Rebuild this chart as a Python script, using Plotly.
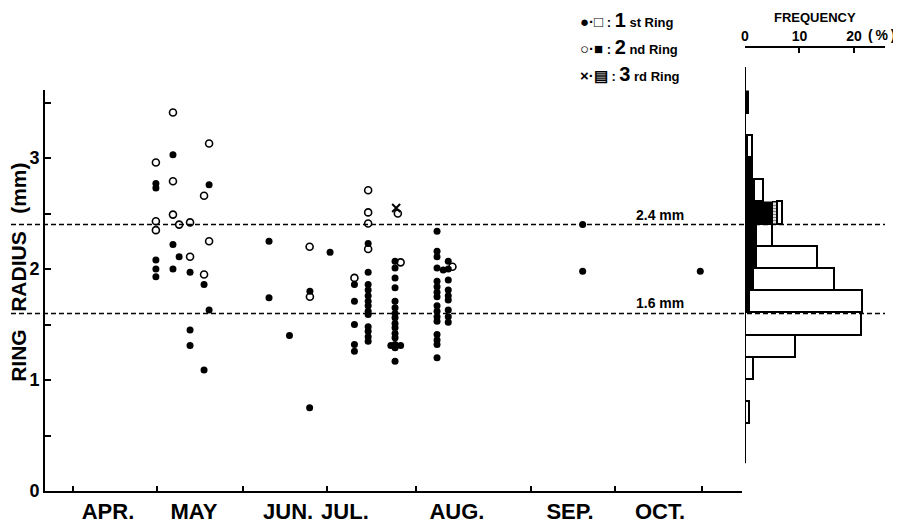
import plotly.graph_objects as go

# ---------------- data ----------------
# sampling position along the season axis (days from an origin ~ late March)
month_labels = ["APR.", "MAY", "JUN.", "JUL.", "AUG.", "SEP.", "OCT."]
month_label_pos = [22.5, 53.2, 86.8, 107.1, 147.1, 187.5, 219.6]
month_tick_pos = [10, 40, 70.7, 100.7, 132.5, 173.6, 203.6, 234.6]

# 1st ring (filled circles)
r1_x = ([39.6] * 5 + [45.7] * 3 + [47.9] + [51.8] * 3 + [56.8] * 2 + [58.6] * 2
        + [80, 80, 87.3, 94.6, 94.5, 101.8]
        + [110.5] * 5 + [115.4] * 13 + [125] * 15 + [123.5, 127]
        + [140] * 16 + [144] * 9 + [142.2]
        + [192, 192, 234])
r1_y = ([2.77, 2.73, 2.08, 2.00, 1.93, 3.03, 2.22, 2.00, 2.11, 1.97, 1.45, 1.31,
         1.86, 1.09, 2.76, 1.63]
        + [2.25, 1.74, 1.40, 1.80, 0.75, 2.15]
        + [1.86, 1.71, 1.50, 1.32, 1.26]
        + [2.23, 1.97, 1.86, 1.81, 1.76, 1.71, 1.67, 1.62, 1.59, 1.48, 1.44, 1.39, 1.35]
        + [2.07, 2.01, 1.92, 1.83, 1.71, 1.65, 1.60, 1.56, 1.51, 1.47, 1.42, 1.38,
           1.32, 1.29, 1.17]
        + [1.31, 1.31]
        + [2.34, 2.16, 2.11, 2.01, 1.89, 1.84, 1.79, 1.75, 1.67, 1.62, 1.57, 1.53,
           1.41, 1.36, 1.32, 1.20]
        + [2.07, 2.00, 1.90, 1.81, 1.76, 1.72, 1.63, 1.57, 1.52]
        + [1.99]
        + [2.40, 1.98, 1.98])

# 2nd ring (open circles)
r2_x = [39.6, 39.6, 39.6, 45.7, 45.7, 45.7, 47.9, 51.8, 51.8, 56.8, 56.8, 58.6, 58.6,
        94.5, 94.6,
        110.5, 115.4, 115.4, 115.4, 115.4, 126, 127,
        145.5]
r2_y = [2.96, 2.43, 2.35, 3.41, 2.79, 2.49, 2.40, 2.42, 2.11, 2.66, 1.95, 3.13, 2.25,
        2.20, 1.75,
        1.92, 2.71, 2.51, 2.41, 2.18, 2.50, 2.06,
        2.02]

# 3rd ring (cross)
r3_x = [125.4]
r3_y = [2.55]

# frequency histogram (%), bins of 0.2 mm (centres)
bin_centres = [3.5, 3.3, 3.1, 2.9, 2.7, 2.5, 2.3, 2.1, 1.9, 1.7, 1.5, 1.3, 1.1, 0.9, 0.7]
freq_2nd = [0.7, 0, 0.55, 1.5, 1.8, 5.1, 2.2, 2.2, 1.65, 0.9, 0, 0, 0, 0, 0]
freq_3rd = [0, 0, 0, 0, 0, 0.9, 0, 0, 0, 0, 0, 0, 0, 0, 0]
freq_1st = [0, 0, 0.9, 0, 1.65, 0.9, 2.9, 11.2, 14.9, 20.7, 21.5, 9.4, 1.65, 0, 0.9]

ref_levels = [2.4, 1.6]
ref_labels = ["2.4 mm", "1.6 mm"]

# ---------------- figure ----------------
FONT = "Liberation Sans, Arial, sans-serif"
PW, PH = 840, 443          # plot-area size in px
PX0, PY0 = 45, 48          # plot-area top-left on the page


def nz(v):
    return [x if x else None for x in v]


def px(xp):   # page x -> paper x
    return (xp - PX0) / PW


def py(yp):   # page y -> paper y
    return (PY0 + PH - yp) / PH


fig = go.Figure()

fig.add_trace(go.Scatter(x=r1_x, y=r1_y, mode="markers", xaxis="x", yaxis="y",
                         marker=dict(symbol="circle", size=7, color="black"),
                         showlegend=False))
fig.add_trace(go.Scatter(x=r2_x, y=r2_y, mode="markers", xaxis="x", yaxis="y",
                         marker=dict(symbol="circle-open", size=7, color="black",
                                     line=dict(width=1.6, color="black")),
                         showlegend=False))
fig.add_trace(go.Scatter(x=r3_x, y=r3_y, mode="markers", xaxis="x", yaxis="y",
                         marker=dict(symbol="x-thin-open", size=8, color="black",
                                     line=dict(width=2, color="black")),
                         showlegend=False))

fig.add_trace(go.Bar(y=bin_centres, x=nz(freq_2nd), orientation="h", width=0.2,
                     xaxis="x2", yaxis="y2", showlegend=False,
                     marker=dict(color="black", line=dict(width=0.5, color="black"))))
fig.add_trace(go.Bar(y=bin_centres, x=nz(freq_3rd), orientation="h", width=0.2,
                     xaxis="x2", yaxis="y2", showlegend=False,
                     marker=dict(color="white", line=dict(width=1, color="black"),
                                 pattern=dict(shape="-", fgcolor="black", size=3, solidity=0.5))))
fig.add_trace(go.Bar(y=bin_centres, x=nz(freq_1st), orientation="h", width=0.2,
                     xaxis="x2", yaxis="y2", showlegend=False,
                     marker=dict(color="white", line=dict(width=1.6, color="black"))))

shapes = []
for lv in ref_levels:
    shapes.append(dict(type="line", xref="paper", yref="y", x0=px(3), x1=px(885), y0=lv, y1=lv,
                       line=dict(color="black", width=1.5, dash="5px,3px"), layer="above"))
# vertical axis of histogram
shapes.append(dict(type="line", xref="x2", yref="y2", x0=0, x1=0, y0=0.25, y1=3.82,
                   line=dict(color="black", width=2)))

annotations = []
for lv, lab in zip(ref_levels, ref_labels):
    annotations.append(dict(text=lab, xref="paper", yref="y", x=px(660), y=lv + 0.09,
                            xanchor="center", yanchor="middle", showarrow=False,
                            font=dict(family=FONT, size=14, color="black", weight="bold")))

annotations.append(dict(text="RING\u00a0\u00a0\u00a0RADIUS\u00a0\u00a0\u00a0(mm)", textangle=-90,
                        xref="paper", yref="y", x=px(18.5), y=1.97, showarrow=False,
                        xanchor="center", yanchor="middle",
                        font=dict(family=FONT, size=21, color="black", weight="bold")))

annotations.append(dict(text="FREQUENCY", xref="paper", yref="paper",
                        x=px(815), y=py(18), xanchor="center", yanchor="middle", showarrow=False,
                        font=dict(family=FONT, size=13, color="black", weight="bold")))
annotations.append(dict(text="(\u2009%\u2009)", xref="paper", yref="paper",
                        x=px(881), y=py(35), xanchor="center", yanchor="middle", showarrow=False,
                        font=dict(family=FONT, size=14, color="black", weight="bold")))

legend_rows = [
    ("\u25cf\u00b7\u25a1", "1", "st Ring"),
    ("\u25cb\u00b7\u25a0", "2", "nd Ring"),
    ("\u00d7\u00b7\u25a4", "3", "rd Ring"),
]
for i, (sym, num, suf) in enumerate(legend_rows):
    yy = 20 + 27 * i
    annotations.append(dict(
        text=f"<span style='font-size:15px'>{sym}</span> : <span style='font-size:20px'>{num}</span> {suf}",
        xref="paper", yref="paper", x=px(578), y=py(yy),
        xanchor="left", yanchor="middle", showarrow=False,
        font=dict(family=FONT, size=13, color="black", weight="bold")))

# the page body adds an 8px margin; the figure is sized/offset to compensate
OFF = 8
fig.update_layout(
    width=901 - OFF, height=524 - OFF,
    margin=dict(l=PX0 - OFF, t=PY0 - OFF, r=901 - OFF - (PX0 - OFF) - PW,
                b=524 - OFF - (PY0 - OFF) - PH, autoexpand=False),
    paper_bgcolor="white", plot_bgcolor="white",
    barmode="stack", bargap=0,
    shapes=shapes, annotations=annotations,
    xaxis=dict(domain=[0, 697 / PW], range=[0, 248.9], anchor="y", automargin=False,
               showline=True, linecolor="black", linewidth=1.5, showgrid=False, zeroline=False,
               tickmode="array", tickvals=month_label_pos, ticktext=month_labels, ticks="",
               ticklabelstandoff=0,
               tickfont=dict(family=FONT, size=22, color="black", weight="bold"),
               minor=dict(tickmode="array", tickvals=month_tick_pos, ticks="inside",
                          ticklen=5, tickwidth=1.5, tickcolor="black", showgrid=False)),
    yaxis=dict(domain=[0, 401 / PH], range=[0, 3.6126], anchor="x", automargin=False,
               showline=True, linecolor="black", linewidth=2, showgrid=False, zeroline=False,
               tickmode="array", tickvals=[0, 1, 2, 3], ticks="inside", ticklen=6,
               tickwidth=1.5, tickcolor="black",
               tickfont=dict(family=FONT, size=18, color="black", weight="bold"),
               minor=dict(dtick=0.5, ticks="inside", ticklen=6, tickwidth=1.5,
                          tickcolor="black", showgrid=False)),
    xaxis2=dict(domain=[700 / PW, 1], range=[0, 25.7], anchor="y2", side="top", automargin=False,
                showline=True, linecolor="black", linewidth=1.5, showgrid=False, zeroline=False,
                tickmode="array", tickvals=[0, 10, 20], ticks="inside", ticklen=5,
                tickwidth=1.5, tickcolor="black",
                tickfont=dict(family=FONT, size=14, color="black", weight="bold")),
    yaxis2=dict(domain=[0, 1], range=[0, PH / 111], anchor="x2", visible=False),
)

fig.write_html("out.html")
